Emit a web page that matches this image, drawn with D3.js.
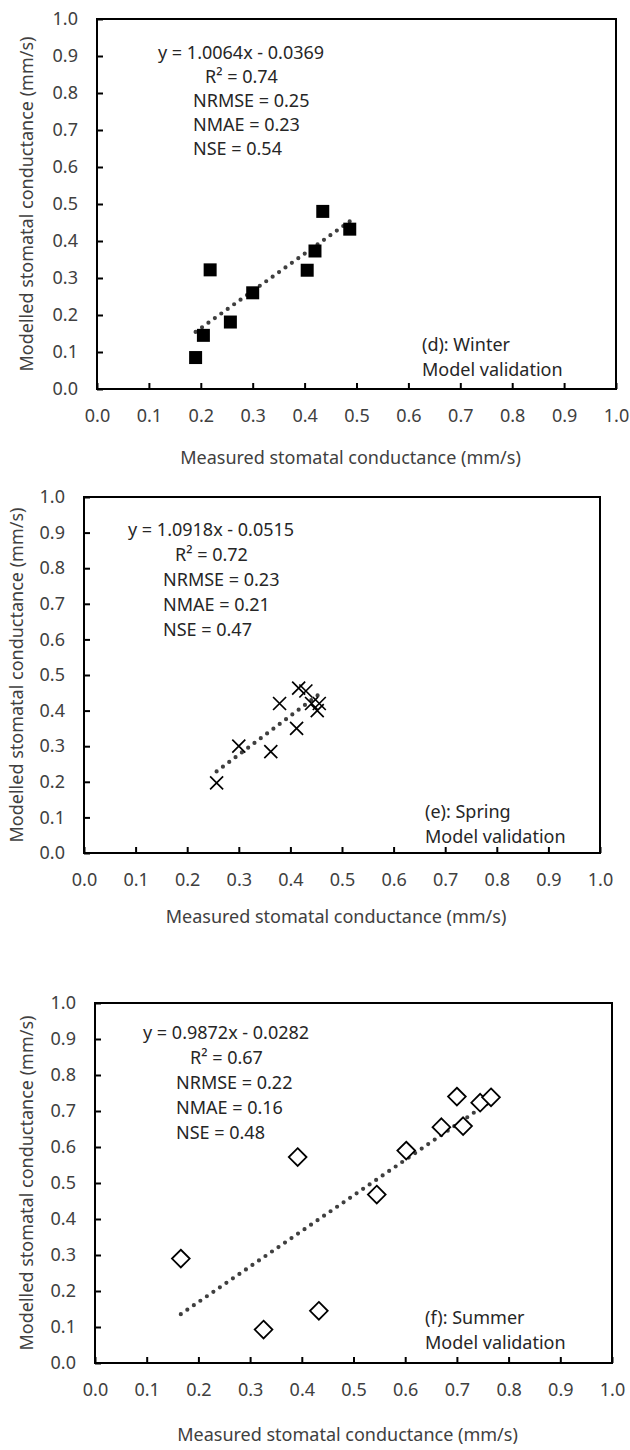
<!DOCTYPE html>
<html>
<head>
<meta charset="utf-8">
<script src="https://cdn.jsdelivr.net/npm/d3@7"></script>
<style>
  html, body { margin: 0; padding: 0; background: #fff; }
  svg { display: block; font-family: "Noto Sans", "Open Sans", sans-serif; }
</style>
</head>
<body>
<svg id="chart" width="630" height="1450"></svg>
<script>
// ---- Data -------------------------------------------------------------
const axisTicks = [0.0, 0.1, 0.2, 0.3, 0.4, 0.5, 0.6, 0.7, 0.8, 0.9, 1.0];

// Winter
const winterMeasured = [0.190, 0.205, 0.218, 0.257, 0.300, 0.405, 0.420, 0.435, 0.487];
const winterModelled = [0.085, 0.145, 0.322, 0.181, 0.260, 0.321, 0.373, 0.480, 0.432];
// Spring
const springMeasured = [0.257, 0.300, 0.362, 0.379, 0.412, 0.416, 0.430, 0.441, 0.452, 0.456];
const springModelled = [0.197, 0.300, 0.285, 0.420, 0.350, 0.463, 0.455, 0.420, 0.400, 0.420];
// Summer
const summerMeasured = [0.166, 0.326, 0.392, 0.433, 0.545, 0.602, 0.670, 0.700, 0.712, 0.745, 0.766];
const summerModelled = [0.290, 0.093, 0.572, 0.145, 0.468, 0.590, 0.655, 0.740, 0.658, 0.723, 0.738];

// Regression fits and goodness-of-fit statistics (winter, spring, summer)
const fitSlopes     = [1.0064, 1.0918, 0.9872];
const fitIntercepts = [-0.0369, -0.0515, -0.0282];
const fitR2         = [0.74, 0.72, 0.67];
const fitNRMSE      = [0.25, 0.23, 0.22];
const fitNMAE       = [0.23, 0.21, 0.16];
const fitNSE        = [0.54, 0.47, 0.48];
const panelTags     = ["(d): Winter", "(e): Spring", "(f): Summer"];
const panelSubtitle = "Model validation";
const xTitle = "Measured stomatal conductance (mm/s)";
const yTitle = "Modelled stomatal conductance (mm/s)";

// ---- Layout -----------------------------------------------------------
const panels = [
  { measured: winterMeasured, modelled: winterModelled, marker: "square",
    left: 97, right: 616, top: 19, bottom: 389,
    eqX: 158, r2X: 205, statX: 193, textY: 59, gap: 24,
    tagX: 422, tagY: 351, yTitleX: 27, xTitleY: 464 },
  { measured: springMeasured, modelled: springModelled, marker: "cross",
    left: 84, right: 600, top: 497, bottom: 853,
    eqX: 128, r2X: 175, statX: 163, textY: 536, gap: 25,
    tagX: 425, tagY: 818, yTitleX: 17, xTitleY: 923 },
  { measured: summerMeasured, modelled: summerModelled, marker: "diamond",
    left: 95, right: 612, top: 1003, bottom: 1363,
    eqX: 143, r2X: 190, statX: 176, textY: 1039, gap: 25,
    tagX: 425, tagY: 1324, yTitleX: 27, xTitleY: 1441 }
];

const svg = d3.select("#chart");
const fmt1 = d3.format(".1f");
const fmt2 = d3.format(".2f");
const fmt4 = d3.format(".4f");
const textColor = "#404040";
const fontSize = 18;

panels.forEach((p, i) => {
  const x = d3.scaleLinear().domain([0, 1]).range([p.left, p.right]);
  const y = d3.scaleLinear().domain([0, 1]).range([p.bottom, p.top]);
  const g = svg.append("g");

  // Axes with inward ticks
  const xAxis = d3.axisBottom(x).tickValues(axisTicks).tickFormat(fmt1)
    .tickSizeInner(-6).tickSizeOuter(0).tickPadding(20);
  const yAxis = d3.axisLeft(y).tickValues(axisTicks).tickFormat(fmt1)
    .tickSizeInner(-6).tickSizeOuter(0).tickPadding(19);

  const gx = g.append("g").attr("transform", `translate(0,${p.bottom})`).call(xAxis);
  const gy = g.append("g").attr("transform", `translate(${p.left},0)`).call(yAxis);
  [gx, gy].forEach(a => {
    a.select(".domain").remove();
    a.selectAll(".tick line").attr("stroke", "#000").attr("stroke-width", 2);
    a.selectAll(".tick text").attr("fill", textColor)
      .style("font-size", fontSize + "px").style("font-family", "Noto Sans, sans-serif");
  });

  // Plot frame
  g.append("rect")
    .attr("x", x(0)).attr("y", y(1))
    .attr("width", x(1) - x(0)).attr("height", y(0) - y(1))
    .attr("fill", "none").attr("stroke", "#000").attr("stroke-width", 2);

  // Linear trendline over the measured range
  const xs = d3.extent(p.measured);
  const fit = v => fitSlopes[i] * v + fitIntercepts[i];
  g.append("path")
    .datum(xs)
    .attr("d", d3.line().x(d => x(d)).y(d => y(fit(d))))
    .attr("fill", "none").attr("stroke", "#3f3f3f")
    .attr("stroke-width", 4.2).attr("stroke-linecap", "round")
    .attr("stroke-dasharray", "0,7.9");

  // Markers
  const pts = p.measured.map((m, k) => [m, p.modelled[k]]);
  const sym = g.append("g").selectAll("path").data(pts).join("path")
    .attr("transform", d => `translate(${x(d[0])},${y(d[1])})`);
  if (p.marker === "square") {
    sym.attr("d", d3.symbol(d3.symbolSquare, 169)).attr("fill", "#000");
  } else if (p.marker === "cross") {
    sym.attr("d", d3.symbol(d3.symbolX, 112))
      .attr("fill", "none").attr("stroke", "#000").attr("stroke-width", 1.7);
  } else {
    sym.attr("d", d3.symbol(d3.symbolDiamond2, 200))
      .attr("fill", "#fff").attr("stroke", "#000").attr("stroke-width", 1.8);
  }

  // Fit statistics
  const sign = fitIntercepts[i] < 0 ? "-" : "+";
  const lines = [
    [p.eqX, `y = ${fmt4(fitSlopes[i])}x ${sign} ${fmt4(Math.abs(fitIntercepts[i]))}`],
    [p.r2X, `R\u00B2 = ${fmt2(fitR2[i])}`],
    [p.statX, `NRMSE = ${fmt2(fitNRMSE[i])}`],
    [p.statX, `NMAE = ${fmt2(fitNMAE[i])}`],
    [p.statX, `NSE = ${fmt2(fitNSE[i])}`]
  ];
  g.append("g").selectAll("text").data(lines).join("text")
    .attr("x", d => d[0]).attr("y", (d, k) => p.textY + k * p.gap)
    .attr("fill", "#262626").style("font-size", fontSize + "px")
    .text(d => d[1]);

  // Panel tag
  g.append("text").attr("x", p.tagX).attr("y", p.tagY)
    .attr("fill", "#262626").style("font-size", fontSize + "px").text(panelTags[i]);
  g.append("text").attr("x", p.tagX).attr("y", p.tagY + 25)
    .attr("fill", "#262626").style("font-size", fontSize + "px").text(panelSubtitle);

  // Axis titles
  g.append("text")
    .attr("x", (p.left + p.right) / 2 - 6).attr("y", p.xTitleY)
    .attr("text-anchor", "middle").attr("fill", textColor)
    .style("font-size", fontSize + "px").text(xTitle);
  g.append("text")
    .attr("transform", `translate(${p.yTitleX},${(p.top + p.bottom) / 2}) rotate(-90)`)
    .attr("text-anchor", "middle").attr("dy", "0.35em").attr("fill", textColor)
    .style("font-size", fontSize + "px").text(yTitle);
});
</script>
</body>
</html>
